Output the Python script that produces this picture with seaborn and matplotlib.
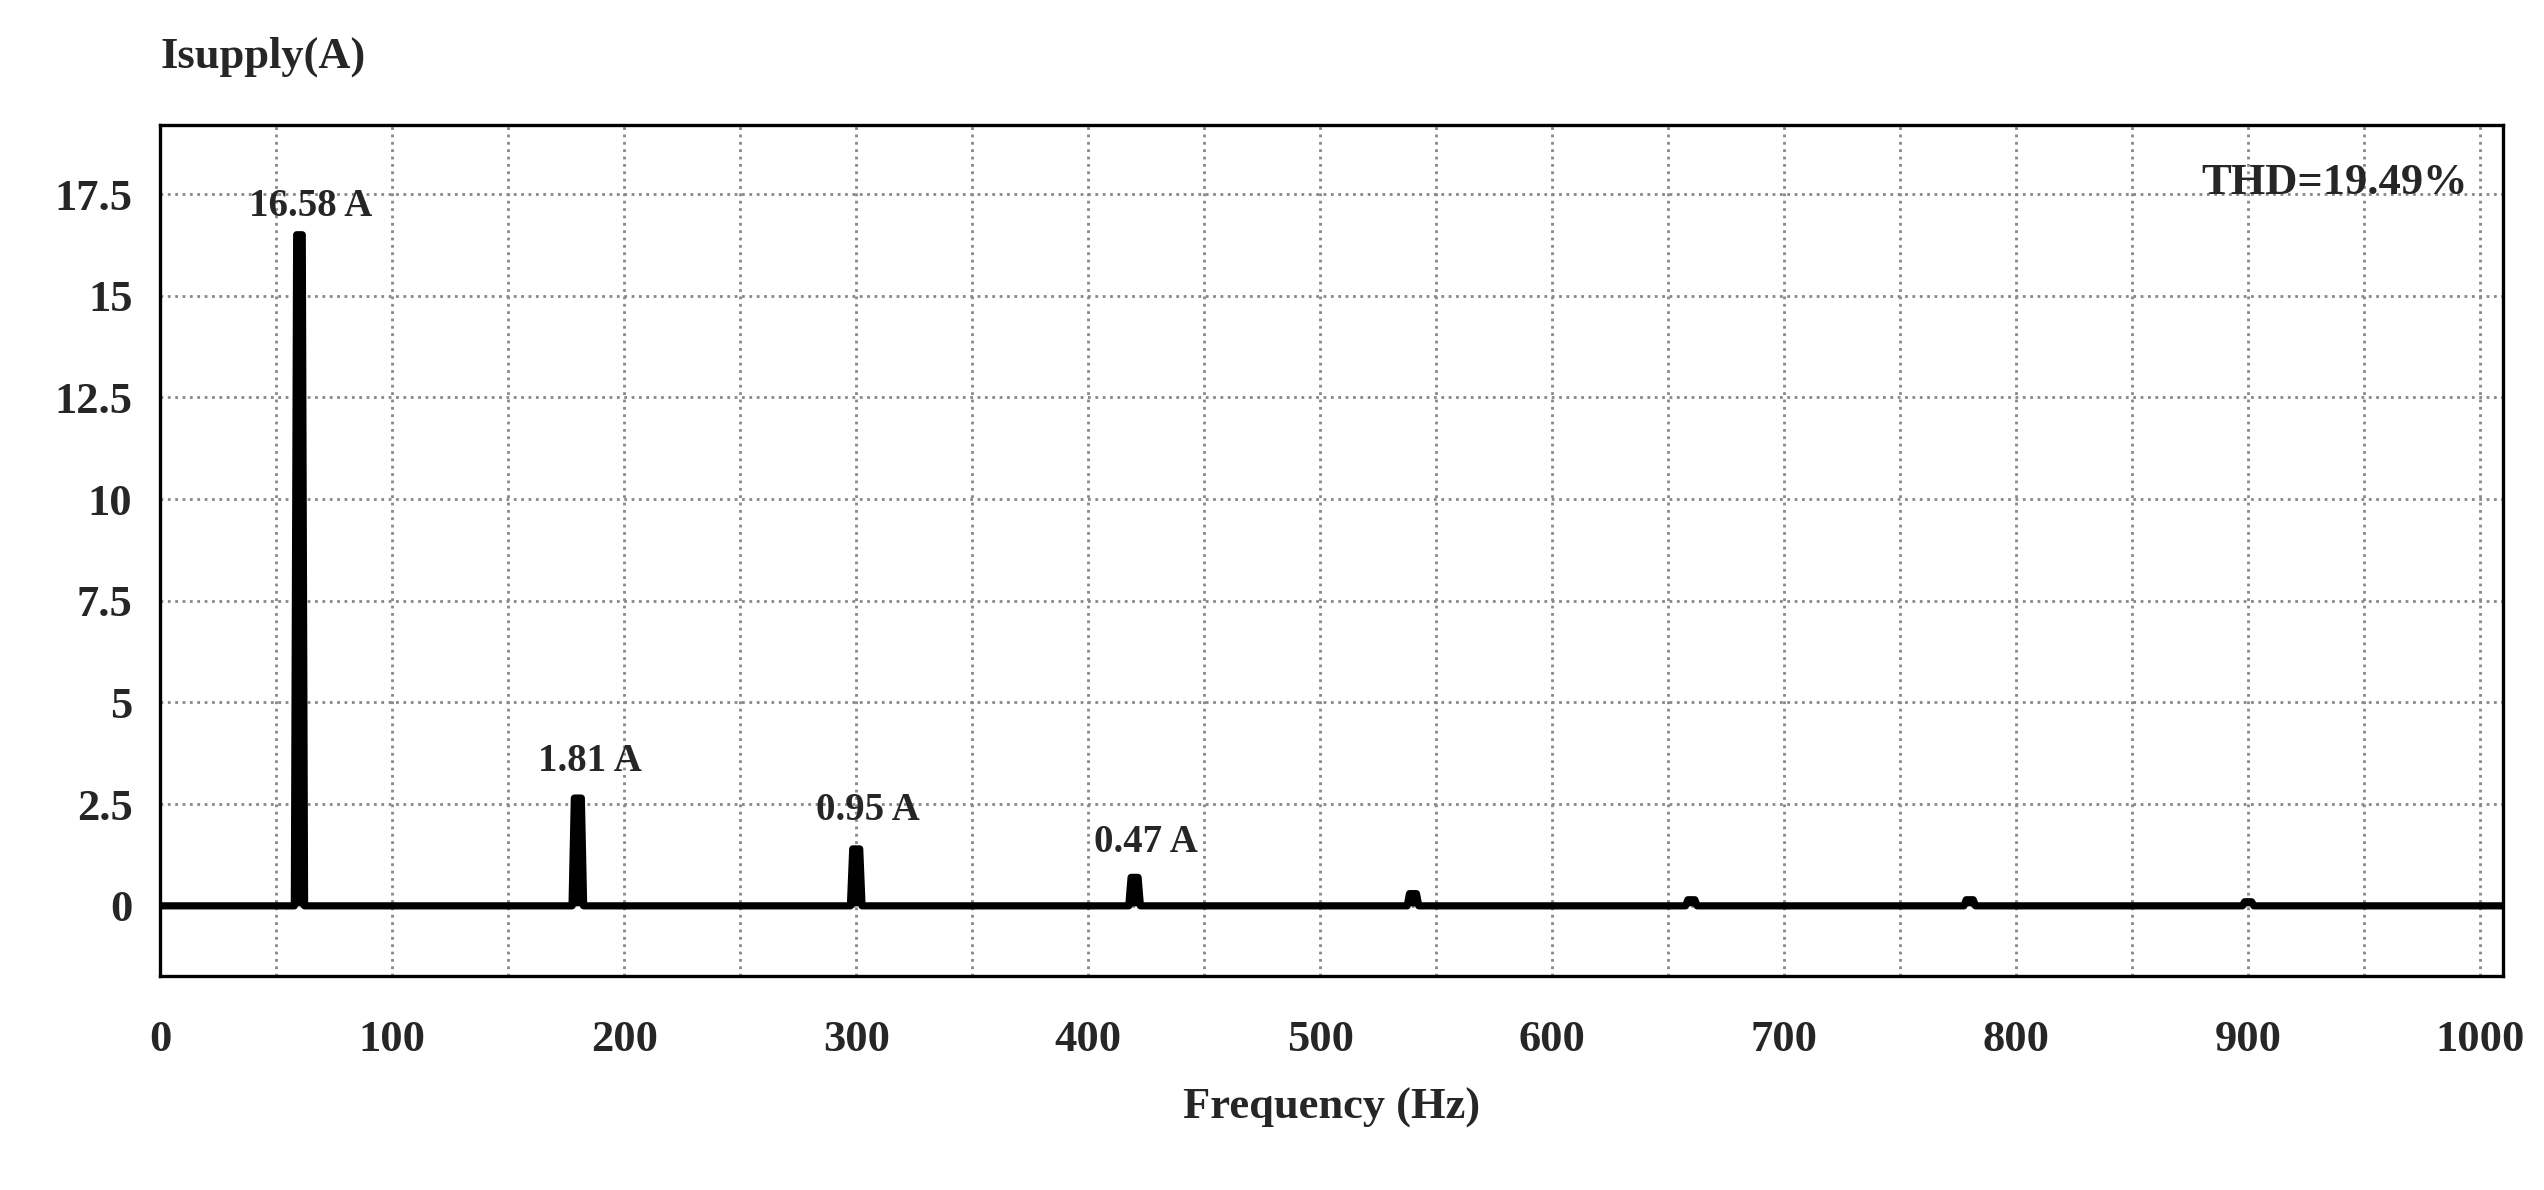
import numpy as np
import pandas as pd
import matplotlib
matplotlib.use('Agg')
import matplotlib.pyplot as plt
import seaborn as sns

# harmonic spectrum of the supply current
harm_freq = [60, 180, 300, 420, 540, 660, 780, 900]
harm_peak = [16.5, 2.65, 1.4, 0.7, 0.3, 0.15, 0.15, 0.1]
label_freq = [60, 180, 300, 420]
label_text = ['16.58 A', '1.81 A', '0.95 A', '0.47 A']
label_y = [16.75, 3.1, 1.9, 1.1]
thd_text = 'THD=19.49%'

# build the spectrum trace: flat baseline with narrow spikes at each harmonic
xs, ys = [0.0], [0.0]
for f, h in zip(harm_freq, harm_peak):
    w = 1.2 if f == 60 else 1.5
    xs += [f - w - 1, f - w, f + w, f + w + 1]
    ys += [0.0, h, h, 0.0]
xs.append(1010.0)
ys.append(0.0)
df = pd.DataFrame({'freq': xs, 'amp': ys})

sns.set_theme(style='white')
plt.rcParams['font.family'] = ['Liberation Serif', 'DejaVu Serif']
plt.rcParams['font.weight'] = 'bold'

fig = plt.figure(figsize=(12.72, 5.95), dpi=200)
ax = fig.add_axes([0.063, 0.18, 0.921, 0.715])
sns.lineplot(data=df, x='freq', y='amp', ax=ax, color='black', linewidth=2.6)
ax.fill_between(df['freq'], df['amp'], color='black', linewidth=0)

ax.set_xlim(0, 1010)
ax.set_ylim(-1.72, 19.2)
ax.set_xticks(np.arange(0, 1001, 100))
ax.set_xticks(np.arange(50, 1001, 100), minor=True)
ax.set_yticks([0, 2.5, 5, 7.5, 10, 12.5, 15, 17.5])
ax.set_yticklabels(['0', '2.5', '5', '7.5', '10', '12.5', '15', '17.5'])
ax.grid(True, which='both', color='#888888', linestyle=':', linewidth=1.0)
ax.tick_params(axis='both', which='both', length=0, labelsize=16, pad=10)
ax.tick_params(axis='x', pad=16)
for lab in ax.get_xticklabels() + ax.get_yticklabels():
    lab.set_fontweight('bold')
for s in ax.spines.values():
    s.set_color('black')
    s.set_linewidth(1.2)

ax.set_xlabel('Frequency (Hz)', fontsize=16, fontweight='bold', labelpad=10)
ax.set_ylabel('')
fig.text(0.063, 0.952, 'Isupply(A)', fontsize=16, fontweight='bold', ha='left', va='center')
ax.text(0.985, 0.955, thd_text, transform=ax.transAxes, fontsize=16,
        fontweight='bold', ha='right', va='top')
for f, t, y in zip(label_freq, label_text, label_y):
    ax.text(f + 5, y, t, fontsize=14, fontweight='bold', ha='center', va='bottom')

fig.savefig('out.png', dpi=200)
